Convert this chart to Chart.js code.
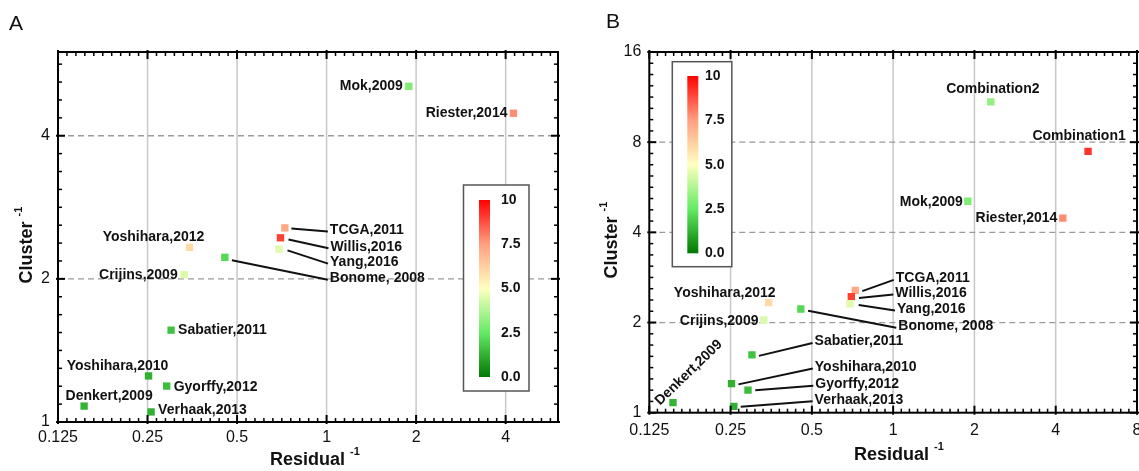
<!DOCTYPE html>
<html>
<head>
<meta charset="utf-8">
<script src="https://cdn.jsdelivr.net/npm/chart.js@4.4.0/dist/chart.umd.min.js"></script>
<style>
html, body { margin: 0; padding: 0; background: #fff; overflow: hidden; }
body { width: 1139px; height: 471px; position: relative; }
canvas { position: absolute; top: 0; }
#chartA { left: 0; }
#chartB { left: 570px; }
</style>
</head>
<body>
<canvas id="chartA" width="570" height="471"></canvas>
<canvas id="chartB" width="600" height="471"></canvas>
<script>
// data (Residual^-1, Cluster^-1, colour score)
const studies = ['Mok,2009', 'Riester,2014', 'TCGA,2011', 'Willis,2016', 'Yang,2016', 'Bonome, 2008', 'Yoshihara,2012',
    'Crijins,2009', 'Sabatier,2011', 'Yoshihara,2010', 'Gyorffy,2012', 'Denkert,2009', 'Verhaak,2013'];
const residualInv = [1.89, 4.25, 0.724, 0.70, 0.692, 0.455, 0.346, 0.332, 0.30, 0.252, 0.29, 0.153, 0.257];
const clusterInv = [5.08, 4.46, 2.56, 2.44, 2.31, 2.22, 2.33, 2.04, 1.56, 1.25, 1.19, 1.08, 1.05];
const scores = [2.9, 7.8, 7.3, 9.0, 4.5, 2.1, 6.0, 4.4, 1.6, 1.2, 1.5, 1.3, 1.2];

const combinations = ['Combination1', 'Combination2'];
const combResidualInv = [5.27, 2.30];
const combClusterInv = [7.45, 10.9];
const combScores = [9.2, 3.2];

const xTicksA = [0.125, 0.25, 0.5, 1, 2, 4];
const yTicksA = [1, 2, 4];
const xTicksB = [0.125, 0.25, 0.5, 1, 2, 4, 8];
const yTicksB = [1, 2, 4, 8, 16];
const colorbarTicks = [0, 2.5, 5, 7.5, 10];

// colour scale
const cmapStops = [0, 2.5, 5, 7.5, 10];
const cmapColors = [[0, 120, 0], [100, 235, 100], [255, 255, 192], [255, 160, 128], [255, 0, 0]];

const FONT = '"Liberation Sans", Arial, sans-serif';

function cmapColor(v) {
    for (let i = 0; i < cmapStops.length - 1; i++) {
        if (v <= cmapStops[i + 1]) {
            const t = (v - cmapStops[i]) / (cmapStops[i + 1] - cmapStops[i]);
            const a = cmapColors[i], b = cmapColors[i + 1];
            const c = a.map((ch, k) => Math.round(ch + (b[k] - ch) * t));
            return `rgb(${c[0]},${c[1]},${c[2]})`;
        }
    }
    const l = cmapColors[cmapColors.length - 1];
    return `rgb(${l[0]},${l[1]},${l[2]})`;
}

// label placement, pixel offsets from the marker
// lead = start of leader line; it ends just before the text
const labelsA = {
    'Mok,2009': { dx: -6, dy: 0, align: 'right' },
    'Riester,2014': { dx: -6, dy: 0, align: 'right' },
    'TCGA,2011': { dx: 45, dy: 2, align: 'left', lead: [6.5, 0.7] },
    'Willis,2016': { dx: 50, dy: 9, align: 'left', lead: [8, 1.7] },
    'Yang,2016': { dx: 51, dy: 13, align: 'left', lead: [8.5, 1.3] },
    'Bonome, 2008': { dx: 105, dy: 21, align: 'left', lead: [7, 3] },
    'Yoshihara,2012': { dx: -36, dy: -10, align: 'center' },
    'Crijins,2009': { dx: -6.5, dy: 0.7, align: 'right' },
    'Sabatier,2011': { dx: 7, dy: 0, align: 'left' },
    'Yoshihara,2010': { dx: -31, dy: -10, align: 'center' },
    'Gyorffy,2012': { dx: 7, dy: 0.6, align: 'left' },
    'Denkert,2009': { dx: 25, dy: -10, align: 'center' },
    'Verhaak,2013': { dx: 7, dy: -1.5, align: 'left' }
};
const labelsB = {
    'Combination1': { dx: -9, dy: -15.5, align: 'center' },
    'Combination2': { dx: 2, dy: -12.5, align: 'center' },
    'Mok,2009': { dx: -5, dy: 1, align: 'right' },
    'Riester,2014': { dx: -5.5, dy: 0, align: 'right' },
    'TCGA,2011': { dx: 40.5, dy: -12, align: 'left', lead: [7, 0.7] },
    'Willis,2016': { dx: 44, dy: -3.7, align: 'left', lead: [7.6, 1.3] },
    'Yang,2016': { dx: 47, dy: 5.3, align: 'left', lead: [8.7, 1.3] },
    'Bonome, 2008': { dx: 97.5, dy: 17.4, align: 'left', lead: [7.3, 1.7] },
    'Yoshihara,2012': { dx: -44, dy: -10, align: 'center' },
    'Crijins,2009': { dx: -5.4, dy: 1, align: 'right' },
    'Sabatier,2011': { dx: 62.6, dy: -13.3, align: 'left', lead: [6.9, 1] },
    'Yoshihara,2010': { dx: 83.3, dy: -16.6, align: 'left', lead: [6.9, 0.7] },
    'Gyorffy,2012': { dx: 67.3, dy: -5.7, align: 'left', lead: [7.3, 0.3] },
    'Verhaak,2013': { dx: 80.8, dy: -6.6, align: 'left', lead: [6.9, 0.4] },
    'Denkert,2009': { dx: 15.7, dy: -30, align: 'center', rot: -44 }
};

function log2Minor(min, max, n) {
    const out = [];
    for (let e = Math.floor(Math.log2(min)); e < Math.ceil(Math.log2(max)); e++) {
        for (let j = 1; j < n; j++) {
            const v = Math.pow(2, e + j / n);
            if (v > min && v < max) out.push(v);
        }
    }
    return out;
}

function drawTitle(ctx, x, y, rot, main) {
    ctx.save();
    ctx.translate(x, y);
    ctx.rotate(rot);
    ctx.fillStyle = '#111';
    ctx.textBaseline = 'middle';
    ctx.textAlign = 'left';
    ctx.font = 'bold 18px ' + FONT;
    const w1 = ctx.measureText(main).width;
    ctx.font = 'bold 11px ' + FONT;
    const w2 = ctx.measureText('-1').width;
    const start = -(w1 + 5 + w2) / 2;
    ctx.font = 'bold 18px ' + FONT;
    ctx.fillText(main, start, 0);
    ctx.font = 'bold 11px ' + FONT;
    ctx.fillText('-1', start + w1 + 5, -8);
    ctx.restore();
}

function makeDecor(cfg) {
    return {
        id: 'decor' + cfg.letter,
        beforeDatasetsDraw(chart) {
            const { ctx, chartArea: a, scales: { x, y } } = chart;
            ctx.save();
            // vertical grid: solid grey
            ctx.strokeStyle = '#c8c8c8';
            ctx.lineWidth = 1.5;
            cfg.xTicks.forEach(v => {
                const px = x.getPixelForValue(v);
                if (px <= a.left + 1 || px >= a.right - 1) return;
                ctx.beginPath(); ctx.moveTo(px, a.top); ctx.lineTo(px, a.bottom); ctx.stroke();
            });
            // horizontal grid: dashed grey
            ctx.strokeStyle = '#9a9a9a';
            ctx.lineWidth = 1.3;
            ctx.setLineDash([6, 4]);
            cfg.yTicks.forEach(v => {
                const py = y.getPixelForValue(v);
                if (py <= a.top + 1 || py >= a.bottom - 1) return;
                ctx.beginPath(); ctx.moveTo(a.left, py); ctx.lineTo(a.right, py); ctx.stroke();
            });
            ctx.restore();

            // colour bar
            const cb = cfg.colorbar;
            ctx.save();
            ctx.fillStyle = '#fff';
            ctx.fillRect(cb.box[0], cb.box[1], cb.box[2], cb.box[3]);
            ctx.strokeStyle = '#555';
            ctx.lineWidth = 1.5;
            ctx.strokeRect(cb.box[0], cb.box[1], cb.box[2], cb.box[3]);
            const [bx, by, bw, bh] = cb.bar;
            const grad = ctx.createLinearGradient(0, by + bh, 0, by);
            cmapStops.forEach(s => grad.addColorStop(s / 10, cmapColor(s)));
            ctx.fillStyle = grad;
            ctx.fillRect(bx, by, bw, bh);
            ctx.fillStyle = '#111';
            ctx.font = 'bold 14px ' + FONT;
            ctx.textAlign = 'left';
            ctx.textBaseline = 'middle';
            colorbarTicks.forEach(v => {
                ctx.fillText(v === 10 ? '10' : v.toFixed(1), cb.labelX, by + bh - v / 10 * bh);
            });
            ctx.restore();
        },
        afterDatasetsDraw(chart) {
            const { ctx, chartArea: a, scales: { x, y } } = chart;
            ctx.save();
            // frame
            ctx.strokeStyle = '#000';
            ctx.lineWidth = 2;
            ctx.strokeRect(a.left, a.top, a.right - a.left, a.bottom - a.top);
            ctx.lineWidth = 1.5;
            const tick = (x1, y1, x2, y2) => { ctx.beginPath(); ctx.moveTo(x1, y1); ctx.lineTo(x2, y2); ctx.stroke(); };
            log2Minor(x.min, x.max, 10).forEach(v => {
                const px = x.getPixelForValue(v);
                tick(px, a.bottom, px, a.bottom - 4);
                tick(px, a.top, px, a.top + 4);
            });
            log2Minor(y.min, y.max, 8).forEach(v => {
                const py = y.getPixelForValue(v);
                tick(a.left, py, a.left + 4, py);
                tick(a.right, py, a.right - 4, py);
            });
            ctx.lineWidth = 2;
            cfg.xTicks.forEach(v => {
                const px = x.getPixelForValue(v);
                tick(px, a.bottom + 2, px, a.bottom - 7);
                tick(px, a.top - 2, px, a.top + 7);
            });
            cfg.yTicks.forEach(v => {
                const py = y.getPixelForValue(v);
                tick(a.left - 2, py, a.left + 7, py);
                tick(a.right + 2, py, a.right - 7, py);
            });

            // point labels with leader lines
            ctx.font = 'bold 14px ' + FONT;
            ctx.fillStyle = '#111';
            ctx.strokeStyle = '#111';
            ctx.textBaseline = 'middle';
            chart.data.datasets.forEach((ds, di) => {
                const meta = chart.getDatasetMeta(di);
                ds.names.forEach((name, i) => {
                    const lay = cfg.labels[name];
                    const pt = meta.data[i];
                    if (!lay || !pt) return;
                    const tx = pt.x + lay.dx, ty = pt.y + lay.dy;
                    if (lay.lead) {
                        ctx.lineWidth = 2;
                        tick(pt.x + lay.lead[0], pt.y + lay.lead[1], tx - 2, ty + 1.5);
                    }
                    ctx.save();
                    ctx.translate(tx, ty);
                    if (lay.rot) ctx.rotate(lay.rot * Math.PI / 180);
                    ctx.textAlign = lay.align;
                    ctx.fillText(name, 0, 0);
                    ctx.restore();
                });
            });

            // axis titles and panel letter
            drawTitle(ctx, cfg.xTitle[0], cfg.xTitle[1], 0, 'Residual');
            drawTitle(ctx, cfg.yTitle[0], cfg.yTitle[1], -Math.PI / 2, 'Cluster');
            ctx.fillStyle = '#111';
            ctx.font = '21px ' + FONT;
            ctx.textAlign = 'left';
            ctx.textBaseline = 'alphabetic';
            ctx.fillText(cfg.letter, cfg.letterPos[0], cfg.letterPos[1]);
            ctx.restore();
        }
    };
}

function logAxis(min, max, ticks, fitSize, pad, horizontal) {
    return {
        type: 'logarithmic',
        position: horizontal ? 'bottom' : 'left',
        min: min,
        max: max,
        bounds: 'data',
        afterBuildTicks: scale => { scale.ticks = ticks.map(v => ({ value: v })); },
        afterFit: scale => {
            if (horizontal) scale.height = fitSize; else scale.width = fitSize;
        },
        grid: { display: false, drawTicks: false },
        border: { display: false },
        ticks: {
            autoSkip: false,
            maxRotation: 0,
            padding: pad,
            color: '#111',
            font: { family: FONT, size: 16 },
            callback: v => String(v)
        }
    };
}

function makeDataset(names, xs, ys, vals) {
    return {
        names: names,
        data: xs.map((v, i) => ({ x: v, y: ys[i] })),
        pointStyle: 'rect',
        pointRadius: 5.2,
        pointBorderWidth: 0,
        backgroundColor: vals.map(cmapColor),
        borderColor: vals.map(cmapColor)
    };
}

Chart.defaults.font.family = FONT;

new Chart(document.getElementById('chartA'), {
    type: 'scatter',
    data: { datasets: [makeDataset(studies, residualInv, clusterInv, scores)] },
    options: {
        responsive: false,
        animation: false,
        devicePixelRatio: 1,
        layout: { padding: { top: 52, right: 12, bottom: 0, left: 0 } },
        plugins: { legend: { display: false }, tooltip: { enabled: false } },
        scales: {
            x: logAxis(0.125, 6, xTicksA, 49, 6, true),
            y: logAxis(1, 6, yTicksA, 58, 8, false)
        }
    },
    plugins: [makeDecor({
        letter: 'A', letterPos: [9, 30],
        xTicks: xTicksA, yTicks: yTicksA, labels: labelsA,
        xTitle: [315, 460], yTitle: [27, 245],
        colorbar: { box: [463.5, 185, 65.5, 206], bar: [479, 200, 11, 177], labelX: 501 }
    })]
});

new Chart(document.getElementById('chartB'), {
    type: 'scatter',
    data: {
        datasets: [
            makeDataset(studies, residualInv, clusterInv, scores),
            makeDataset(combinations, combResidualInv, combClusterInv, combScores)
        ]
    },
    options: {
        responsive: false,
        animation: false,
        devicePixelRatio: 1,
        layout: { padding: { top: 52, right: 33, bottom: 0, left: 0 } },
        plugins: { legend: { display: false }, tooltip: { enabled: false } },
        scales: {
            x: logAxis(0.125, 8, xTicksB, 58.3, 8, true),
            y: logAxis(1, 16, yTicksB, 79.3, 8, false)
        }
    },
    plugins: [makeDecor({
        letter: 'B', letterPos: [36, 28],
        xTicks: xTicksB, yTicks: yTicksB, labels: labelsB,
        xTitle: [329, 455], yTitle: [42, 240],
        colorbar: { box: [102.3, 61.7, 59.5, 205], bar: [117.3, 76, 11, 177.3], labelX: 135 }
    })]
});
</script>
</body>
</html>
